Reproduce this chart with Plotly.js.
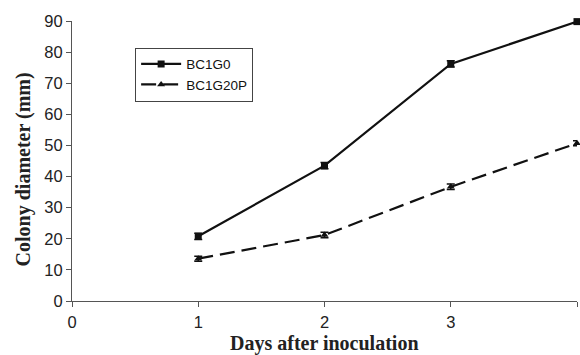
<!DOCTYPE html>
<html>
<head>
<meta charset="utf-8">
<script src="https://cdn.plot.ly/plotly-3.0.1.min.js"></script>
<style>html,body{margin:0;padding:0;background:#fff;}#chart{width:580px;height:355px;}</style>
</head>
<body>
<div id="chart"></div>
<script>
var days = [1, 2, 3, 4];
var bc1g0 = [20.8, 43.5, 76.2, 89.8];
var bc1g0Err = [1.0, 1.0, 1.0, 0.6];
var bc1g20p = [13.6, 21.2, 36.7, 50.7];
var bc1g20pErr = [0.8, 0.9, 0.9, 0.8];
var xTicks = [0, 1, 2, 3, 4];
var yTicks = [0, 10, 20, 30, 40, 50, 60, 70, 80, 90];
var xTitle = 'Days after inoculation';
var yTitle = 'Colony diameter (mm)';

var traces = [
  {
    x: days, y: bc1g0, name: 'BC1G0', type: 'scatter', mode: 'lines+markers',
    line: {color: '#111', width: 2.2, dash: 'solid'},
    marker: {symbol: 'square', size: 7, color: '#111'},
    error_y: {type: 'data', array: bc1g0Err, visible: true, color: '#111', thickness: 1.5, width: 4},
    cliponaxis: false
  },
  {
    x: days, y: bc1g20p, name: 'BC1G20P', type: 'scatter', mode: 'lines+markers',
    line: {color: '#111', width: 2.2, dash: '15px,7px'},
    marker: {symbol: 'triangle-up', size: 7, color: '#111'},
    error_y: {type: 'data', array: bc1g20pErr, visible: true, color: '#111', thickness: 1.5, width: 4},
    cliponaxis: false
  }
];

var titleFont = {family: 'Liberation Serif, Times New Roman, serif', size: 20, color: '#222', weight: 'bold'};
var tickFont = {family: 'Liberation Sans, Arial, sans-serif', size: 16.5, color: '#222'};

var layout = {
  width: 580, height: 355,
  margin: {l: 72, r: 3, t: 21, b: 54},
  paper_bgcolor: '#fff', plot_bgcolor: '#fff',
  showlegend: true,
  legend: {
    x: 0.125, y: 0.905, xanchor: 'left', yanchor: 'top',
    bordercolor: '#444', borderwidth: 1, bgcolor: '#fff',
    font: {family: 'Liberation Sans, Arial, sans-serif', size: 13.5, color: '#111'},
    itemwidth: 40
  },
  xaxis: {
    range: [0, 4], tickvals: xTicks, ticktext: xTicks.map(String),
    showgrid: false, zeroline: false, showline: true, linecolor: '#555', linewidth: 1,
    ticks: 'outside', ticklen: 5, tickcolor: '#555', ticklabelstandoff: 1,
    tickfont: tickFont,
    automargin: false
  },
  yaxis: {
    range: [0, 90], tickvals: yTicks, ticktext: yTicks.map(String),
    showgrid: false, zeroline: false, showline: true, linecolor: '#555', linewidth: 1,
    ticks: 'outside', ticklen: 5, tickcolor: '#555',
    tickfont: tickFont,
    automargin: false
  },
  annotations: [
    {text: xTitle, xref: 'paper', yref: 'paper', x: 0.5, y: -0.153, xanchor: 'center', yanchor: 'middle',
     showarrow: false, font: titleFont},
    {text: yTitle, xref: 'paper', yref: 'paper', x: -0.097, y: 0.47, xanchor: 'center', yanchor: 'middle',
     textangle: -90, showarrow: false, font: titleFont}
  ]
};

Plotly.newPlot('chart', traces, layout, {displayModeBar: false, staticPlot: true});
</script>
</body>
</html>
